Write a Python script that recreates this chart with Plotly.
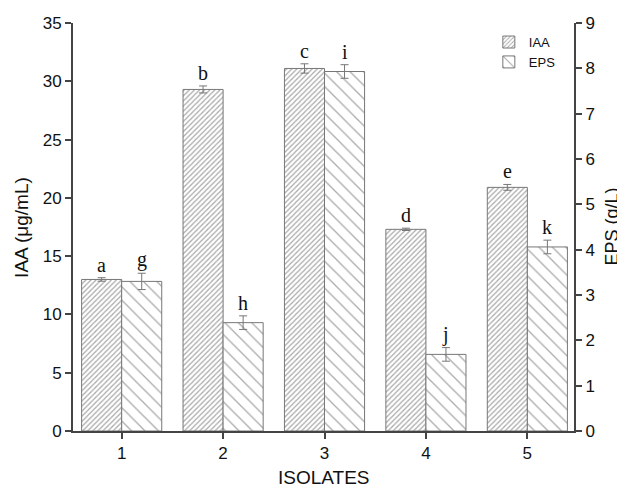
import plotly.graph_objects as go

isolates = [1, 2, 3, 4, 5]
iaa = [13.0, 29.3, 31.1, 17.3, 20.9]
iaa_err = [0.15, 0.3, 0.4, 0.1, 0.25]
eps = [3.30, 2.39, 7.93, 1.69, 4.06]
eps_err = [0.18, 0.15, 0.15, 0.15, 0.15]
iaa_letters = ["a", "b", "c", "d", "e"]
eps_letters = ["g", "h", "i", "j", "k"]

grey = "#777777"
fig = go.Figure()
fig.add_trace(go.Bar(
    x=isolates, y=iaa, name="IAA", width=0.395, offset=-0.395,
    marker=dict(color="white", line=dict(color=grey, width=1),
                pattern=dict(shape="/", fgcolor="#555555", bgcolor="white", size=3.6, solidity=0.35)),
    error_y=dict(type="data", array=iaa_err, color=grey, thickness=1, width=4),
    yaxis="y"))
fig.add_trace(go.Bar(
    x=isolates, y=eps, name="EPS", width=0.395, offset=0,
    marker=dict(color="white", line=dict(color=grey, width=1),
                pattern=dict(shape="\\", fgcolor="#555555", bgcolor="white", size=9.5, solidity=0.14)),
    error_y=dict(type="data", array=eps_err, color=grey, thickness=1, width=4),
    yaxis="y2"))

for xi, v, e, t in zip(isolates, iaa, iaa_err, iaa_letters):
    fig.add_annotation(x=xi - 0.1975, y=v + e, yref="y", text=t, showarrow=False,
                       yanchor="bottom", yshift=0,
                       font=dict(family="Liberation Serif", size=20, color="#111"))
for xi, v, e, t in zip(isolates, eps, eps_err, eps_letters):
    fig.add_annotation(x=xi + 0.1975, y=v + e, yref="y2", text=t, showarrow=False,
                       yanchor="bottom", yshift=0,
                       font=dict(family="Liberation Serif", size=20, color="#111"))

# axis titles
fig.add_annotation(xref="paper", yref="paper", x=-0.104, y=0.5, text="IAA (μg/mL)",
                   textangle=-90, showarrow=False, xanchor="center", yanchor="middle",
                   font=dict(family="Liberation Sans", size=19, color="#111"))
fig.add_annotation(xref="paper", yref="paper", x=1.075, y=0.5, text="EPS (g/L)",
                   textangle=-90, showarrow=False, xanchor="center", yanchor="middle",
                   font=dict(family="Liberation Sans", size=18, color="#111"))
fig.add_annotation(xref="paper", yref="paper", x=0.5, y=-0.145, text="ISOLATES",
                   showarrow=False, xanchor="center", yanchor="bottom",
                   font=dict(family="Liberation Sans", size=19, color="#111"))

axis_common = dict(showline=True, linecolor="#444", linewidth=2, ticks="outside",
                   tickcolor="#444", tickwidth=2, ticklen=6, showgrid=False, zeroline=False,
                   automargin=False,
                   tickfont=dict(family="Liberation Sans", size=17, color="#111"))
fig.update_layout(
    width=617, height=484,
    margin=dict(l=65, r=51, t=15, b=61, autoexpand=False),
    paper_bgcolor="white", plot_bgcolor="white",
    font=dict(family="Liberation Sans", color="#111"),
    xaxis=dict(range=[0.52, 5.46], tickvals=isolates, **axis_common),
    yaxis=dict(range=[0, 35], dtick=5, **axis_common),
    yaxis2=dict(range=[0, 9], dtick=1, overlaying="y", side="right", **axis_common),
    legend=dict(x=0.83, y=0.99, xanchor="left", yanchor="top", bgcolor="rgba(0,0,0,0)",
                font=dict(size=13), tracegroupgap=0),
    showlegend=True,
)
fig.write_html("out.html")
